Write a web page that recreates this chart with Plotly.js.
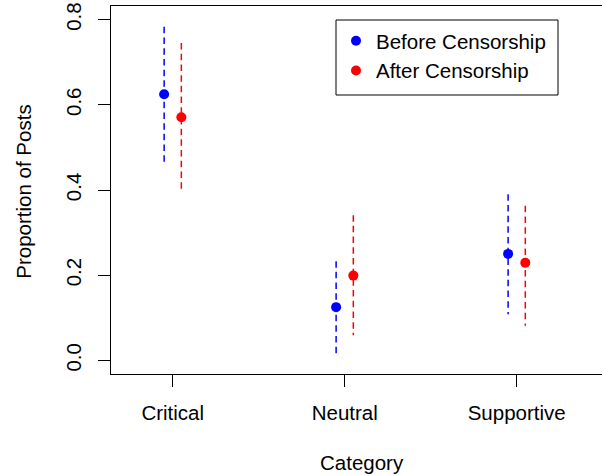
<!DOCTYPE html>
<html>
<head>
<meta charset="utf-8">
<script src="https://cdn.plot.ly/plotly-3.0.1.min.js"></script>
<style>html,body{margin:0;padding:0;background:#fff;}#chart{width:602px;height:476px;}</style>
</head>
<body>
<div id="chart"></div>
<script>
var categories = ["Critical", "Neutral", "Supportive"];
var beforeMean  = [0.625, 0.125, 0.250];
var beforeLower = [0.466, 0.017, 0.108];
var beforeUpper = [0.783, 0.233, 0.390];
var afterMean   = [0.571, 0.199, 0.229];
var afterLower  = [0.396, 0.059, 0.081];
var afterUpper  = [0.745, 0.341, 0.363];
var seriesNames = ["Before Censorship", "After Censorship"];
var yTicks = [0, 0.2, 0.4, 0.6, 0.8];
var yTickText = ["0.0", "0.2", "0.4", "0.6", "0.8"];

var FONT = "Liberation Sans, Arial, Helvetica, sans-serif";
var FS = 20.5;
var offset = 0.05;
var pos = categories.map(function (c, i) { return i + 1; });

function segs(xs, lo, hi) {
  var x = [], y = [];
  for (var i = 0; i < xs.length; i++) {
    x.push(xs[i], xs[i], null);
    y.push(hi[i], lo[i], null);
  }
  return {x: x, y: y};
}
var bx = pos.map(function (p) { return p - offset; });
var ax = pos.map(function (p) { return p + offset; });
var bs = segs(bx, beforeLower, beforeUpper);
var as = segs(ax, afterLower, afterUpper);

var traces = [
  {x: bs.x, y: bs.y, mode: "lines", line: {color: "#0000FF", width: 1.5, dash: "6.5px,4.2px"}, showlegend: false, hoverinfo: "skip"},
  {x: as.x, y: as.y, mode: "lines", line: {color: "#FF0000", width: 1.5, dash: "6.5px,4.2px"}, showlegend: false, hoverinfo: "skip"},
  {x: bx, y: beforeMean, mode: "markers", name: seriesNames[0], marker: {color: "#0000FF", size: 10}},
  {x: ax, y: afterMean, mode: "markers", name: seriesNames[1], marker: {color: "#FF0000", size: 10}}
];

// plot area in pixels: left 111, right 602, top 6, bottom 374
function px2x(p) { return (p - 111) / 491; }
function px2y(p) { return (374 - p) / 368; }

var layout = {
  width: 602, height: 476,
  margin: {l: 111, r: 0, t: 6, b: 102, pad: 0},
  paper_bgcolor: "#fff", plot_bgcolor: "#fff",
  font: {family: FONT, size: FS, color: "#000"},
  showlegend: true,
  legend: {
    x: px2x(336), y: px2y(21), xanchor: "left", yanchor: "top",
    borderwidth: 0, bgcolor: "rgba(0,0,0,0)",
    font: {family: FONT, size: FS, color: "#000"}
  },
  shapes: [
    {type: "rect", xref: "paper", yref: "paper", x0: px2x(336), x1: px2x(558), y0: px2y(95), y1: px2y(20),
     line: {color: "#000", width: 1}, fillcolor: "#fff", layer: "below"}
  ],
  xaxis: {
    range: [0.641, 3.496], tickvals: pos, ticktext: categories,
    showgrid: false, zeroline: false, showline: true, mirror: true,
    linecolor: "#000", linewidth: 1, ticks: "outside", ticklen: 12, tickcolor: "#000", tickwidth: 1,
    ticklabelstandoff: 8,
    tickfont: {family: FONT, size: FS, color: "#000"}, fixedrange: true
  },
  yaxis: {
    range: [-0.032, 0.832], tickvals: yTicks, ticktext: yTickText, tickangle: -90,
    showgrid: false, zeroline: false, showline: true, mirror: false,
    linecolor: "#000", linewidth: 1, ticks: "outside", ticklen: 12, tickcolor: "#000", tickwidth: 1,
    ticklabelstandoff: 9,
    tickfont: {family: FONT, size: FS, color: "#000"}, fixedrange: true
  },
  annotations: [
    {text: "Category", xref: "paper", yref: "paper", x: px2x(362.4), y: px2y(462.5),
     xanchor: "center", yanchor: "middle", showarrow: false, font: {family: FONT, size: FS, color: "#000"}},
    {text: "Proportion of Posts", xref: "paper", yref: "paper", x: px2x(24), y: px2y(191.7),
     xanchor: "center", yanchor: "middle", textangle: -90, showarrow: false, font: {family: FONT, size: FS, color: "#000"}}
  ]
};

Plotly.newPlot("chart", traces, layout, {staticPlot: true, displayModeBar: false});
</script>
</body>
</html>
